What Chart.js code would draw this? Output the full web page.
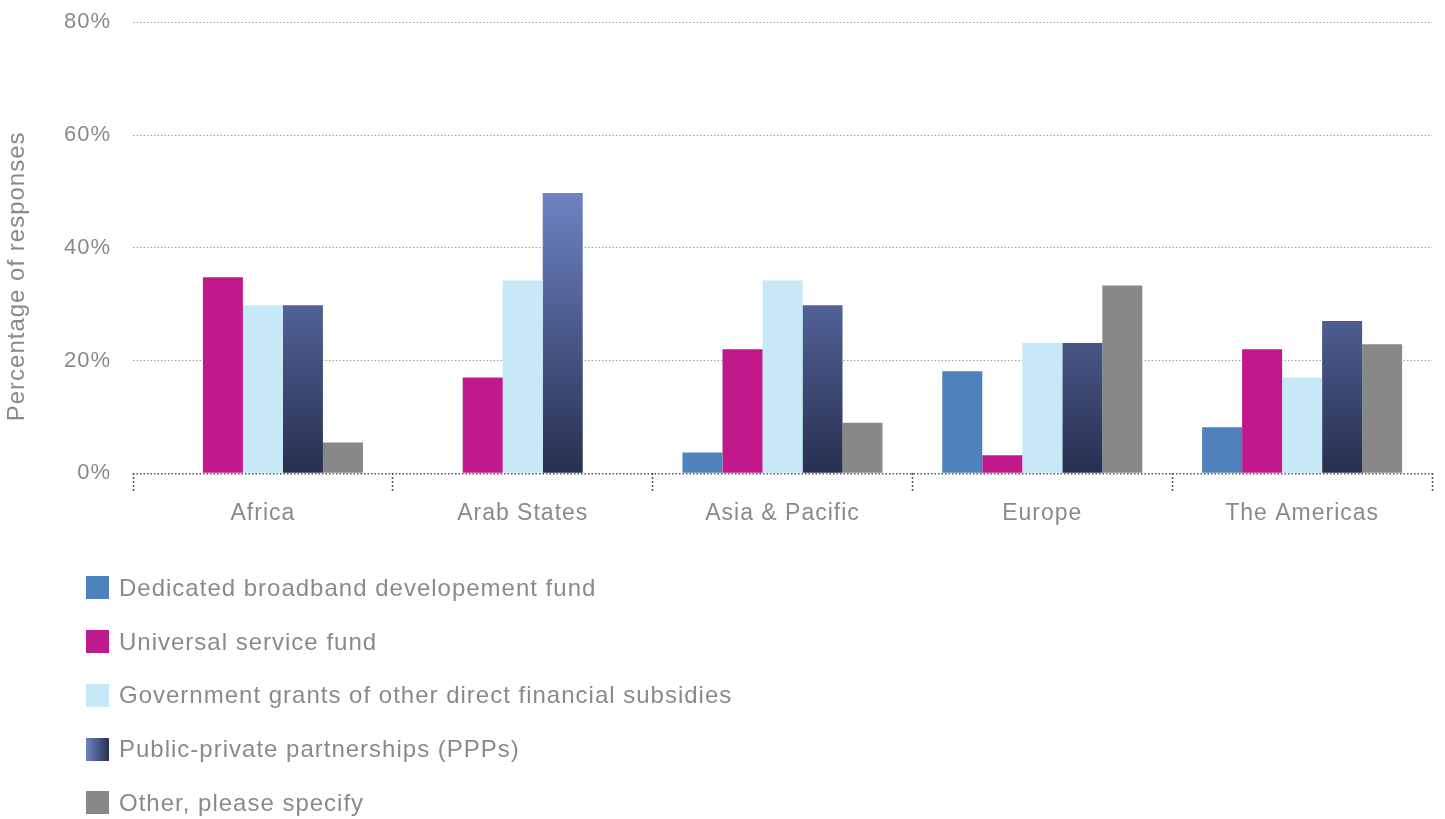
<!DOCTYPE html>
<html>
<head>
<meta charset="utf-8">
<script src="https://cdn.jsdelivr.net/npm/chart.js@4.4.1/dist/chart.umd.min.js"></script>
<style>
  html, body { margin: 0; padding: 0; background: #fff; overflow: hidden; }
  #wrap { position: relative; width: 1445px; height: 819px; overflow: hidden; }
  #chart { position: absolute; left: 0; top: -13px; }
  #legend { position: absolute; left: 86px; top: 561px; font-family: "Liberation Sans", Arial, sans-serif;
            font-size: 24px; color: #8a8a8a; letter-spacing: 1px; }
  .item { display: flex; align-items: center; height: 53.75px; }
  .box { width: 23px; height: 23px; margin-right: 10px; flex: none; }
</style>
</head>
<body>
<div id="wrap">
  <canvas id="chart" width="1445" height="832"></canvas>
  <div id="legend"></div>
</div>
<script>
const categories = ["Africa", "Arab States", "Asia & Pacific", "Europe", "The Americas"];
const seriesNames = [
  "Dedicated broadband developement fund",
  "Universal service fund",
  "Government grants of other direct financial subsidies",
  "Public-private partnerships (PPPs)",
  "Other, please specify"
];
const dedicatedFund = [0, 0, 3.7, 18.1, 8.2];
const universalServiceFund = [34.8, 17.0, 22.0, 3.2, 22.0];
const governmentGrants = [29.8, 34.2, 34.2, 23.1, 17.0];
const publicPrivate = [29.8, 49.7, 29.8, 23.1, 27.0];
const otherSpecify = [5.5, 0, 9.0, 33.3, 22.9];
const yTicks = [0, 20, 40, 60, 80];
const yTitle = 'Percentage of responses';

const FONT = '"Liberation Sans", Arial, sans-serif';
const TEXT = '#8a8a8a';

function pppGradient(ctx) {
  const chart = ctx.chart;
  const area = chart.chartArea;
  if (!area) return '#3d4a78';
  const g = chart.ctx.createLinearGradient(0, area.bottom, 0, area.top);
  g.addColorStop(0, '#283050');
  g.addColorStop(0.62, '#6e83c4');
  g.addColorStop(1, '#7d93d4');
  return g;
}

const colors = ['#4f81bd', '#c1188c', '#c6e8f7', pppGradient, '#878887'];
const values = [dedicatedFund, universalServiceFund, governmentGrants, publicPrivate, otherSpecify];

const spacingPlugin = {
  id: 'spacing',
  beforeDraw(chart) { chart.ctx.letterSpacing = '1px'; }
};

// y-axis title drawn beside the axis, centred slightly below the plot middle as in the source
const yTitlePlugin = {
  id: 'yTitle',
  afterDraw(chart) {
    const { ctx, chartArea } = chart;
    ctx.save();
    ctx.letterSpacing = '1px';
    ctx.font = '24px ' + FONT;
    ctx.fillStyle = TEXT;
    ctx.textAlign = 'center';
    ctx.textBaseline = 'middle';
    ctx.translate(17, chartArea.bottom - 197);
    ctx.rotate(-Math.PI / 2);
    ctx.fillText(yTitle, 0, 0);
    ctx.restore();
  }
};

const chart = new Chart(document.getElementById('chart'), {
  type: 'bar',
  data: {
    labels: categories,
    datasets: seriesNames.map((n, i) => ({
      label: n,
      data: values[i],
      backgroundColor: colors[i],
      borderWidth: 0,
      barPercentage: 1.0,
      categoryPercentage: 0.77
    }))
  },
  options: {
    responsive: false,
    animation: false,
    layout: { padding: { top: 0, right: 13, left: 45, bottom: 284 } },
    plugins: { legend: { display: false }, tooltip: { enabled: false } },
    scales: {
      x: {
        grid: {
          offset: true,
          drawOnChartArea: false,
          drawTicks: true,
          tickLength: 18,
          tickColor: '#555',
          tickBorderDash: [2, 2],
          tickWidth: 1.5
        },
        border: { display: false },
        ticks: { color: TEXT, font: { family: FONT, size: 23 }, padding: 8 }
      },
      y: {
        min: 0, max: 80,
        afterBuildTicks(axis) { axis.ticks = yTicks.map(v => ({ value: v })); },
        grid: { color: (c) => c.tick && c.tick.value === 0 ? '#555' : '#a0a0a0',
                drawTicks: false,
                lineWidth: (c) => c.tick && c.tick.value === 0 ? 1.5 : 1 },
        border: { display: false, dash: [1.5, 2] },
        ticks: { color: TEXT, font: { family: FONT, size: 22 }, padding: 22,
                 callback: (v) => v + '%' }
      }
    }
  },
  plugins: [spacingPlugin, yTitlePlugin]
});

const legend = document.getElementById('legend');
seriesNames.forEach((n, i) => {
  const item = document.createElement('div');
  item.className = 'item';
  const box = document.createElement('div');
  box.className = 'box';
  box.style.background = i === 3 ? 'linear-gradient(to right, #6f84c4, #28304f)' : colors[i];
  const label = document.createElement('span');
  label.textContent = n;
  item.appendChild(box);
  item.appendChild(label);
  legend.appendChild(item);
});
</script>
</body>
</html>
